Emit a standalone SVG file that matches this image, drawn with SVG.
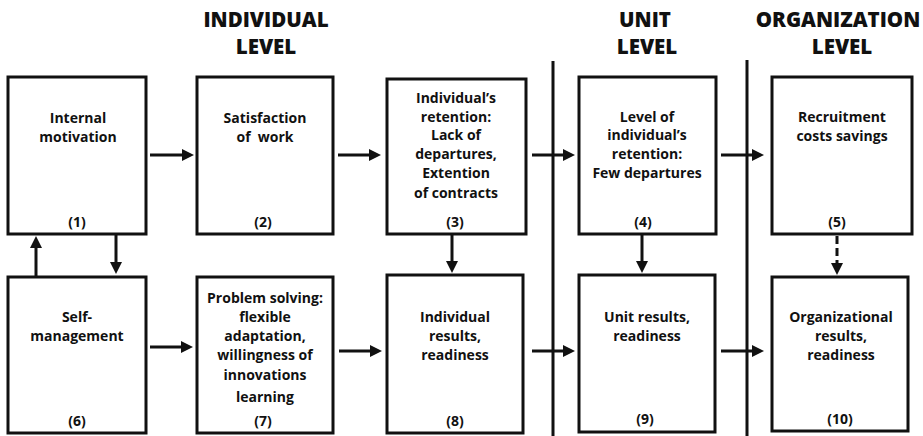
<svg xmlns="http://www.w3.org/2000/svg" width="923" height="436" viewBox="0 0 923 436">
  <style>
    .box { fill: #fff; stroke: #111; stroke-width: 3; }
    .t { font-family: "Open Sans", "Liberation Sans", sans-serif; font-weight: bold; font-size: 14px; fill: #111; text-anchor: middle; }
    .h { font-family: "Open Sans", "Liberation Sans", sans-serif; font-weight: 800; font-size: 20.5px; fill: #111; text-anchor: middle; }
    .edge { stroke: #111; stroke-width: 3; fill: none; marker-end: url(#head); }
    .dash { stroke-dasharray: 8 4; }
    .divider { stroke: #111; stroke-width: 3; }
  </style>
  <defs>
    <marker id="head" markerUnits="userSpaceOnUse" markerWidth="13" markerHeight="13" refX="2" refY="6" orient="auto">
      <path d="M0,0 L12,6 L0,12 z" fill="#111"/>
    </marker>
  </defs>

  <rect width="923" height="436" fill="#fff"/>

  <!-- level headings -->
  <g id="headings">
    <text class="h" x="266" y="27">INDIVIDUAL</text>
    <text class="h" x="266" y="54">LEVEL</text>
    <text class="h" x="645" y="27">UNIT</text>
    <text class="h" x="647" y="54">LEVEL</text>
    <text class="h" x="838" y="27">ORGANIZATION</text>
    <text class="h" x="842" y="54">LEVEL</text>
  </g>

  <!-- level dividers -->
  <g id="dividers">
    <line class="divider" x1="553" y1="61" x2="553" y2="436"/>
    <line class="divider" x1="747" y1="60" x2="747" y2="436"/>
  </g>

  <g id="n1">
    <rect class="box" x="8" y="77" width="138" height="157"/>
    <text class="t" x="78" y="123">Internal</text>
    <text class="t" x="78" y="142">motivation</text>
    <text class="t" x="77" y="227">(1)</text>
  </g>
  <g id="n2">
    <rect class="box" x="197" y="77" width="136" height="157"/>
    <text class="t" x="265" y="123">Satisfaction</text>
    <text class="t" x="265" y="142" xml:space="preserve">of  work</text>
    <text class="t" x="263" y="227">(2)</text>
  </g>
  <g id="n3">
    <rect class="box" x="387" y="79" width="139" height="155"/>
    <text class="t" x="456" y="103">Individual’s</text>
    <text class="t" x="456" y="122">retention:</text>
    <text class="t" x="456" y="140">Lack of</text>
    <text class="t" x="456" y="159">departures,</text>
    <text class="t" x="456" y="178">Extention</text>
    <text class="t" x="456" y="198">of contracts</text>
    <text class="t" x="455" y="227">(3)</text>
  </g>
  <g id="n4">
    <rect class="box" x="579" y="77" width="137" height="157"/>
    <text class="t" x="647" y="122">Level of</text>
    <text class="t" x="647" y="140">individual’s</text>
    <text class="t" x="647" y="159">retention:</text>
    <text class="t" x="647" y="178">Few departures</text>
    <text class="t" x="643" y="227">(4)</text>
  </g>
  <g id="n5">
    <rect class="box" x="772" y="77" width="140" height="157"/>
    <text class="t" x="842" y="122">Recruitment</text>
    <text class="t" x="842" y="141">costs savings</text>
    <text class="t" x="837" y="227">(5)</text>
  </g>
  <g id="n6">
    <rect class="box" x="8" y="277" width="138" height="156"/>
    <text class="t" x="77" y="322">Self-</text>
    <text class="t" x="77" y="341">management</text>
    <text class="t" x="77" y="426">(6)</text>
  </g>
  <g id="n7">
    <rect class="box" x="197" y="277" width="136" height="156"/>
    <text class="t" x="265" y="303">Problem solving:</text>
    <text class="t" x="265" y="322">flexible</text>
    <text class="t" x="265" y="341">adaptation,</text>
    <text class="t" x="265" y="360">willingness of</text>
    <text class="t" x="265" y="380">innovations</text>
    <text class="t" x="265" y="402">learning</text>
    <text class="t" x="263" y="426">(7)</text>
  </g>
  <g id="n8">
    <rect class="box" x="387" y="275" width="136" height="158"/>
    <text class="t" x="455" y="322">Individual</text>
    <text class="t" x="455" y="341">results,</text>
    <text class="t" x="455" y="360">readiness</text>
    <text class="t" x="455" y="426">(8)</text>
  </g>
  <g id="n9">
    <rect class="box" x="579" y="275" width="136" height="157"/>
    <text class="t" x="647" y="322">Unit results,</text>
    <text class="t" x="647" y="341">readiness</text>
    <text class="t" x="645" y="424">(9)</text>
  </g>
  <g id="n10">
    <rect class="box" x="772" y="277" width="136" height="154"/>
    <text class="t" x="841" y="322">Organizational</text>
    <text class="t" x="841" y="341">results,</text>
    <text class="t" x="841" y="360">readiness</text>
    <text class="t" x="840" y="424">(10)</text>
  </g>

  <!-- connectors -->
  <g id="connectors">
    <line class="edge" x1="150" y1="155" x2="184" y2="155"/>
    <line class="edge" x1="338" y1="155" x2="371" y2="155"/>
    <line class="edge" x1="532" y1="155" x2="565" y2="155"/>
    <line class="edge" x1="721" y1="155" x2="754" y2="155"/>
    <line class="edge" x1="150" y1="347" x2="183" y2="347"/>
    <line class="edge" x1="339" y1="351" x2="372" y2="351"/>
    <line class="edge" x1="532" y1="351" x2="565" y2="351"/>
    <line class="edge" x1="721" y1="351" x2="754" y2="351"/>
    <line class="edge" x1="36" y1="276" x2="36" y2="246"/>
    <line class="edge" x1="116" y1="235" x2="116" y2="264"/>
    <line class="edge" x1="452" y1="235" x2="452" y2="263"/>
    <line class="edge" x1="642" y1="235" x2="642" y2="263"/>
    <line class="edge dash" x1="837" y1="236" x2="837" y2="265"/>
  </g>
</svg>
